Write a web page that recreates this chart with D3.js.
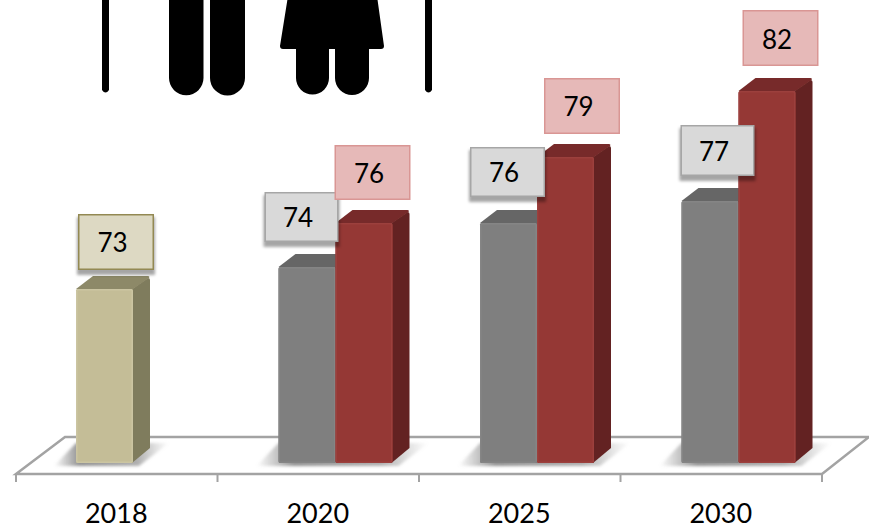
<!DOCTYPE html>
<html><head><meta charset="utf-8">
<script src="https://cdn.jsdelivr.net/npm/d3@7"></script>
<style>html,body{margin:0;padding:0;background:#fff;overflow:hidden}svg{display:block}text{font-family:Lato,"Open Sans",sans-serif;fill:#000}</style>
</head><body><div id="c"></div>
<script>
const categories = ["2018","2020","2025","2030"];
const seriesNames = ["total","men","women"];
const totalValues = [73,null,null,null];
const menValues = [null,74,76,77];
const womenValues = [null,76,79,82];

const W=869,H=528;
const svg=d3.select("#c").append("svg").attr("width",W).attr("height",H);
const defs=svg.append("defs");
const blur=(id,s)=>defs.append("filter").attr("id",id).attr("x","-40%").attr("y","-40%").attr("width","180%").attr("height","180%").append("feGaussianBlur").attr("stdDeviation",s);
blur("b3",3);blur("b2",1.6);blur("b1",.6);
const lg=(id,stops,x2=1,y2=0)=>{const g=defs.append("linearGradient").attr("id",id).attr("x1",0).attr("y1",0).attr("x2",x2).attr("y2",y2);
 stops.forEach(([o,c,a])=>g.append("stop").attr("offset",o).attr("stop-color",c).attr("stop-opacity",a==null?1:a));};
lg("shadow",[[0,"#8c8c8c",0],[0.22,"#8c8c8c",.95],[0.72,"#9a9a9a",.8],[1,"#aaa",0]]);

const x=d3.scaleBand().domain(categories).range([16,822]);
const y=d3.scaleLinear().domain([65.09,82]).range([463,91]);
const barW=57, depthX=17, depthY=13;
const palette={
 total:{front:"#c4bd97",edge:"#cbc5a2",side:"#7f7b5d",top:"#8d8968",box:"#ddd9c3",stroke:"#938953",shadow:true},
 men:{front:"#7f7f7f",edge:"#858585",side:"#5f5f5f",top:"#666666",box:"#d9d9d9",stroke:"#a6a6a6",shadow:true},
 women:{front:"#953735",edge:"#9c3f3d",side:"#632423",top:"#772c2a",box:"#e6b9b8",stroke:"#d99694",shadow:false}
};
// label box layout relative to each bar: [dx, gap below box, width, height]
const boxLayout={ "total2018":[2,19,76,56],"men2020":[-14,25,74,50],"women2020":[-1,23,76,55],
 "men2025":[-10,26,75,50],"women2025":[7,23,76,56],"men2030":[-1,25,74,51],"women2030":[4,25,76,56]};
const tickSize=8;

const rows=[];
categories.forEach((c,i)=>{
 if(totalValues[i]!=null) rows.push({c,s:"total",v:totalValues[i],x:x(c)+60});
 if(menValues[i]!=null) rows.push({c,s:"men",v:menValues[i],x:x(c)+61});
 if(womenValues[i]!=null) rows.push({c,s:"women",v:womenValues[i],x:x(c)+61+barW});
});

// floor
const floorY0=474, floorY1=437, fg="#a3a3a3";
const floor=svg.append("g");
floor.append("path").attr("d",`M${x.range()[0]},${floorY0}L${x.range()[0]+49},${floorY1}H${x.range()[1]+47}L${x.range()[1]},${floorY0}Z`)
 .attr("fill","#fff").attr("stroke",fg).attr("stroke-width",2.5);
floor.selectAll("line").data(categories.concat("end")).join("line")
 .attr("x1",d=>d==="end"?x.range()[1]:x(d)).attr("x2",d=>d==="end"?x.range()[1]:x(d))
 .attr("y1",floorY0).attr("y2",floorY0+tickSize).attr("stroke",fg).attr("stroke-width",2);

// shadows
const shadows=svg.append("g");
categories.forEach(c=>{
 const r=rows.filter(d=>d.c===c), x0=d3.min(r,d=>d.x), x1=d3.max(r,d=>d.x)+barW;
 shadows.append("path").attr("d",`M${x0-22},466H${x1+6}L${x1+36},443H${x1-10}L${x0},443Z`)
  .attr("fill","url(#shadow)").attr("filter","url(#b2)");
});

// bars
const b=svg.append("g").attr("filter","url(#b1)").selectAll("g").data(rows).join("g");
b.append("path").attr("d",d=>`M${d.x+barW-1},${y(d.v)}L${d.x+barW+depthX-2},${y(d.v)-depthY+2}Q${d.x+barW+depthX},${y(d.v)-depthY+2} ${d.x+barW+depthX},${y(d.v)-depthY+4}V${y.range()[0]-depthY-2}L${d.x+barW-1},${y.range()[0]}Z`)
 .attr("fill",d=>palette[d.s].side);
b.append("path").attr("d",d=>`M${d.x},${y(d.v)}L${d.x+depthX},${y(d.v)-depthY}H${d.x+barW+depthX-2}Q${d.x+barW+depthX},${y(d.v)-depthY} ${d.x+barW+depthX-1},${y(d.v)-depthY+2}L${d.x+barW},${y(d.v)}Z`)
 .attr("fill",d=>palette[d.s].top);
b.append("rect").attr("x",d=>d.x).attr("y",d=>y(d.v)).attr("width",barW).attr("height",d=>y.range()[0]-y(d.v)).attr("rx",1.5)
 .attr("fill",d=>palette[d.s].front);
b.append("rect").attr("x",d=>d.x+.75).attr("y",d=>y(d.v)+.75).attr("width",barW-1.5).attr("height",d=>y.range()[0]-y(d.v)-1.5).attr("rx",1.5)
 .attr("fill","none").attr("stroke",d=>palette[d.s].edge).attr("stroke-width",1.5);

// labels
const lab=svg.append("g").selectAll("g").data(rows).join("g").each(function(d){
 const [dx,gap,w,h]=boxLayout[d.s+d.c], g=d3.select(this), p=palette[d.s];
 const bx=d.x+dx, by=y(d.v)-gap-h;
 if(p.shadow) g.append("rect").attr("x",bx-1).attr("y",by+3).attr("width",w+2).attr("height",h+2).attr("fill","#000").attr("opacity",.35).attr("filter","url(#b2)");
 g.append("rect").attr("x",bx+.75).attr("y",by+.75).attr("width",w-1.5).attr("height",h-1.5).attr("fill",p.box).attr("stroke",p.stroke).attr("stroke-width",1.5);
 g.append("text").attr("x",bx+w/2-3.5).attr("y",by+h/2+10.500).attr("text-anchor","middle").attr("font-size",26).text(d.v);
});

// axis labels
svg.append("g").selectAll("text").data(categories).join("text")
 .attr("x",d=>x(d)+x.bandwidth()/2-.5).attr("y",523).attr("text-anchor","middle").attr("font-size",27).text(d=>d);

// pictogram fragment at the top
const icon=svg.append("g").attr("fill","#000").attr("filter","url(#b1)");
icon.append("path").attr("d","M102,-4H109V90Q105.500,95 102,90Z M425,-4H432V90Q428.500,95 425,90Z");
icon.append("path").attr("d","M169,-4H203.500V78A17.250,17.250 0 0 1 169,78Z M210,-4H245V78A17.500,17.500 0 0 1 210,78Z");
icon.append("path").attr("d","M288,-4H377L384,46Q384,49 381,49H369V78A17,17 0 0 1 335,78V49H329V78A16.500,16.500 0 0 1 296,78V49H283Q280,49 280,46Z");
</script></body></html>
